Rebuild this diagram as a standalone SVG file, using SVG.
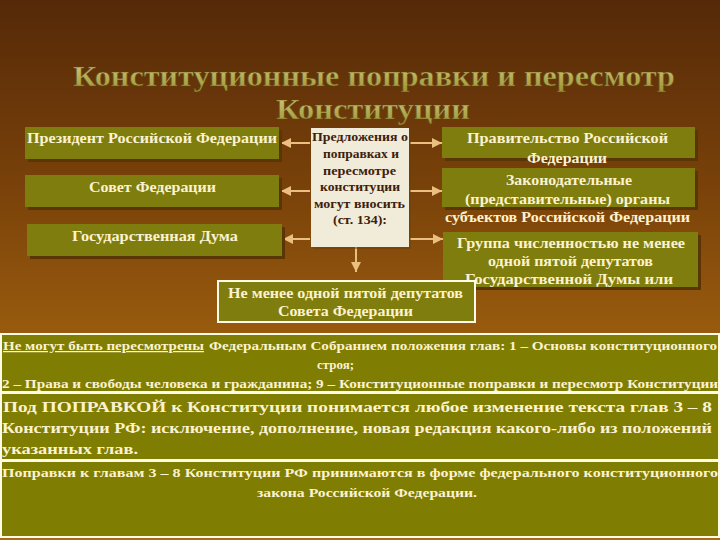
<svg xmlns="http://www.w3.org/2000/svg" width="720" height="540" viewBox="0 0 720 540">
<defs>
<linearGradient id="bg" x1="0" y1="0" x2="0" y2="1">
<stop offset="0" stop-color="#552908"/>
<stop offset="0.35" stop-color="#7a420a"/>
<stop offset="0.65" stop-color="#9c5e0e"/>
<stop offset="1" stop-color="#a86a12"/>
</linearGradient>
<linearGradient id="tg" x1="0" y1="0" x2="0" y2="1">
<stop offset="0" stop-color="#d6cc80"/>
<stop offset="1" stop-color="#9a9434"/>
</linearGradient>
<marker id="ah" viewBox="0 0 10 10" refX="10" refY="5" markerWidth="10" markerHeight="10" markerUnits="userSpaceOnUse" orient="auto">
<path d="M0,0 L10,5 L0,10 Z" fill="#eabf7f"/>
</marker>
<style>
.box{fill:#7f7d0e}
.sh{fill:#5a3606}
.wt{font-family:"Liberation Serif",serif;font-weight:bold;fill:#fbf2cf;font-size:14px;text-anchor:middle}
.ct{font-family:"Liberation Serif",serif;font-weight:bold;fill:#3e200c;font-size:13px;text-anchor:middle}
.pt{font-family:"Liberation Serif",serif;font-weight:bold;fill:#fbf2cf}
.panel{fill:#7f7d02;stroke:#fffbe6;stroke-width:2}
.conn{stroke:#eabf7f;stroke-width:2;fill:none}
.title{font-family:"Liberation Serif",serif;font-weight:bold;fill:url(#tg);stroke:#5e4410;stroke-width:0.5;font-size:29px;text-anchor:middle}
</style>
</defs>
<rect width="720" height="540" fill="url(#bg)"/>

<g id="title">
<text class="title" x="374" y="86" textLength="602" lengthAdjust="spacingAndGlyphs">Конституционные поправки и пересмотр</text>
<text class="title" x="373" y="119" textLength="194" lengthAdjust="spacingAndGlyphs">Конституции</text>
</g>

<g id="connectors">
<line class="conn" x1="310" y1="143" x2="281" y2="143" marker-end="url(#ah)"/>
<line class="conn" x1="310" y1="191" x2="281" y2="191" marker-end="url(#ah)"/>
<line class="conn" x1="310" y1="239" x2="283" y2="239" marker-end="url(#ah)"/>
<line class="conn" x1="410" y1="143" x2="442" y2="143" marker-end="url(#ah)"/>
<line class="conn" x1="410" y1="191" x2="442" y2="191" marker-end="url(#ah)"/>
<line class="conn" x1="410" y1="239" x2="443" y2="239" marker-end="url(#ah)"/>
<line class="conn" x1="356" y1="247" x2="356" y2="272" marker-end="url(#ah)"/>
</g>

<g id="president">
<rect class="sh" x="28" y="130" width="254" height="32"/>
<rect class="box" x="25" y="127" width="254" height="32"/>
<text class="wt" x="152" y="143" textLength="250" lengthAdjust="spacingAndGlyphs">Президент Российской Федерации</text>
</g>
<g id="sovet">
<rect class="sh" x="28" y="178" width="254" height="32"/>
<rect class="box" x="25" y="175" width="254" height="32"/>
<text class="wt" x="152.5" y="192" textLength="127" lengthAdjust="spacingAndGlyphs">Совет Федерации</text>
</g>
<g id="duma">
<rect class="sh" x="30" y="227" width="255" height="32"/>
<rect class="box" x="27" y="224" width="255" height="32"/>
<text class="wt" x="155" y="241" textLength="166" lengthAdjust="spacingAndGlyphs">Государственная Дума</text>
</g>

<g id="center">
<rect x="313" y="130" width="98" height="119" fill="#6a3e08" opacity="0.5"/>
<rect x="311" y="128" width="98" height="119" fill="#f0ecd9"/>
<text class="ct" x="360" y="141" textLength="96" lengthAdjust="spacingAndGlyphs">Предложения о</text>
<text class="ct" x="361" y="158" textLength="76" lengthAdjust="spacingAndGlyphs">поправках и</text>
<text class="ct" x="359.5" y="175" textLength="73" lengthAdjust="spacingAndGlyphs">пересмотре</text>
<text class="ct" x="360" y="191" textLength="80" lengthAdjust="spacingAndGlyphs">конституции</text>
<text class="ct" x="359.5" y="208" textLength="91" lengthAdjust="spacingAndGlyphs">могут вносить</text>
<text class="ct" x="360" y="224" textLength="54" lengthAdjust="spacingAndGlyphs">(ст. 134):</text>
</g>

<g id="government">
<rect class="sh" x="445" y="130" width="253" height="31"/>
<rect class="box" x="442" y="127" width="253" height="31"/>
<text class="wt" x="567.5" y="143" textLength="201" lengthAdjust="spacingAndGlyphs">Правительство Российской</text>
<text class="wt" x="567" y="163" textLength="80" lengthAdjust="spacingAndGlyphs">Федерации</text>
</g>
<g id="legislative">
<rect class="sh" x="445" y="171" width="253" height="39"/>
<rect class="box" x="442" y="168" width="253" height="39"/>
<text class="wt" x="569" y="185" textLength="126" lengthAdjust="spacingAndGlyphs">Законодательные</text>
<text class="wt" x="567.5" y="204" textLength="205" lengthAdjust="spacingAndGlyphs">(представительные) органы</text>
<text class="wt" x="567.5" y="222" textLength="245" lengthAdjust="spacingAndGlyphs">субъектов Российской Федерации</text>
</g>
<g id="duma-group">
<rect class="sh" x="446" y="235" width="255" height="55"/>
<rect class="box" x="443" y="232" width="255" height="55"/>
<text class="wt" x="571" y="248" textLength="228" lengthAdjust="spacingAndGlyphs">Группа численностью не менее</text>
<text class="wt" x="570.5" y="266" textLength="165" lengthAdjust="spacingAndGlyphs">одной пятой депутатов</text>
<text class="wt" x="569" y="284" textLength="208" lengthAdjust="spacingAndGlyphs">Государственной Думы  или</text>
</g>
<g id="sovet-group">
<rect x="218" y="281" width="257" height="41" fill="#7f7d0e" stroke="#fffbe6" stroke-width="2"/>
<text class="wt" x="345.5" y="298" textLength="235" lengthAdjust="spacingAndGlyphs">Не менее одной пятой депутатов</text>
<text class="wt" x="345.5" y="316" textLength="135" lengthAdjust="spacingAndGlyphs">Совета Федерации</text>
</g>

<g id="panel-unchangeable">
<rect class="panel" x="1" y="334" width="718" height="58"/>
<text class="pt" font-size="12.5" x="3" y="350" textLength="201" lengthAdjust="spacingAndGlyphs" text-decoration="underline">Не могут быть пересмотрены</text>
<text class="pt" font-size="12.5" x="209" y="350" textLength="508" lengthAdjust="spacingAndGlyphs">Федеральным Собранием положения глав:  1 – Основы конституционного</text>
<text class="pt" font-size="12.5" x="317" y="369" textLength="37" lengthAdjust="spacingAndGlyphs">строя;</text>
<text class="pt" font-size="12.5" x="2" y="388" textLength="716" lengthAdjust="spacingAndGlyphs">2 – Права и свободы человека и гражданина;   9 – Конституционные поправки и пересмотр Конституции</text>
</g>

<g id="panel-amendment">
<rect class="panel" x="1" y="393" width="718" height="67"/>
<text class="pt" font-size="15.5" x="3" y="412" textLength="709" lengthAdjust="spacingAndGlyphs">Под  ПОПРАВКОЙ  к Конституции понимается любое изменение текста глав 3 – 8</text>
<text class="pt" font-size="15.5" x="2" y="433" textLength="710" lengthAdjust="spacingAndGlyphs">Конституции  РФ: исключение, дополнение, новая редакция какого-либо из положений</text>
<text class="pt" font-size="15.5" x="2" y="454" textLength="136" lengthAdjust="spacingAndGlyphs">указанных глав.</text>
</g>

<g id="panel-law">
<rect class="panel" x="1" y="461" width="718" height="76"/>
<text class="pt" font-size="13.5" x="2" y="477" textLength="716" lengthAdjust="spacingAndGlyphs">Поправки к главам 3 – 8 Конституции РФ принимаются в форме федерального конституционного</text>
<text class="pt" font-size="13.5" x="257" y="497" textLength="220" lengthAdjust="spacingAndGlyphs">закона Российской Федерации.</text>
</g>
</svg>
